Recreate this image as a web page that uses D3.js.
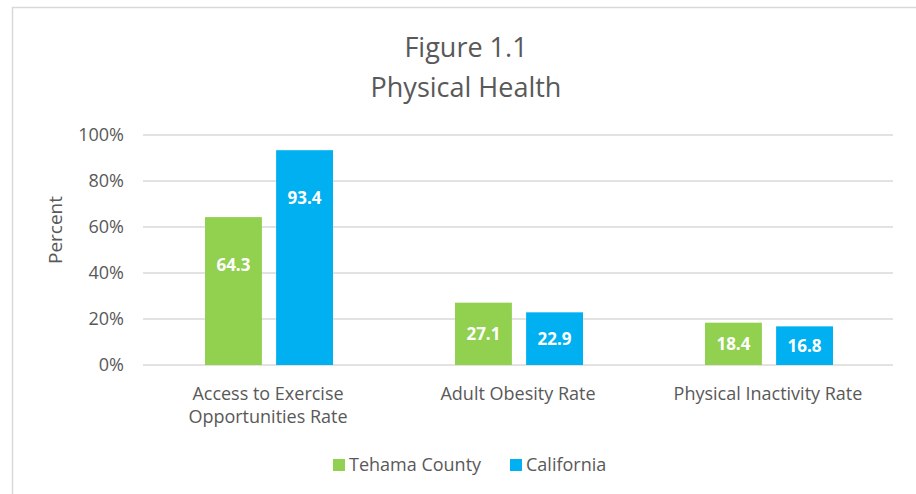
<!DOCTYPE html>
<html>
<head>
<meta charset="utf-8">
<script src="https://cdn.jsdelivr.net/npm/d3@7"></script>
<style>
  body { margin: 0; background: #fff; }
  text { font-family: "Open Sans", sans-serif; }
</style>
</head>
<body>
<div id="chart"></div>
<script>
const categories = [["Access to Exercise", "Opportunities Rate"], ["Adult Obesity Rate"], ["Physical Inactivity Rate"]];
const seriesNames = ["Tehama County", "California"];
const tehama = [64.3, 27.1, 18.4];
const california = [93.4, 22.9, 16.8];
const yTicks = [0, 20, 40, 60, 80, 100];
const colors = ["#92D050", "#00B0F0"];

var width = 916, height = 494;
var margin = { top: 135, right: 23, bottom: 129, left: 143 };
var innerW = width - margin.left - margin.right;
var innerH = height - margin.top - margin.bottom;

var svg = d3.select("#chart").append("svg")
    .attr("width", width)
    .attr("height", height);

// chart border
svg.append("rect")
    .attr("x", 12.5).attr("y", 7.5)
    .attr("width", width + 20).attr("height", height + 20)
    .attr("fill", "none")
    .attr("stroke", "#d9d9d9")
    .attr("stroke-width", 1.5);

var g = svg.append("g").attr("transform", `translate(${margin.left}, ${margin.top})`);

var x0 = d3.scaleBand().domain(d3.range(categories.length)).range([0, innerW]);
var x1 = d3.scaleBand().domain(d3.range(seriesNames.length)).range([62, 190]).paddingInner(0.2);
var y = d3.scaleLinear().domain([0, 100]).range([innerH, 0]);

// gridlines
g.append("g")
    .selectAll("line")
    .data(yTicks)
    .join("line")
    .attr("x1", 0).attr("x2", innerW)
    .attr("y1", d => y(d)).attr("y2", d => y(d))
    .attr("stroke", "#d9d9d9")
    .attr("stroke-width", 1.5);

// y axis labels
var yAxis = d3.axisLeft(y).tickValues(yTicks).tickFormat(d => d + "%").tickSize(0).tickPadding(19);
var yAxisG = g.append("g").call(yAxis);
yAxisG.select(".domain").remove();
yAxisG.selectAll("text").attr("fill", "#595959").style("font-size", "18px").style("font-family", "'Open Sans', sans-serif");

// y axis title
svg.append("text")
    .attr("transform", `translate(62, ${margin.top + innerH / 2 - 20}) rotate(-90)`)
    .attr("text-anchor", "middle")
    .attr("fill", "#595959")
    .style("font-size", "19px")
    .text("Percent");

var series = [tehama, california];

var groups = g.selectAll(".cat")
    .data(categories)
    .join("g")
    .attr("class", "cat")
    .attr("transform", (d, i) => `translate(${x0(i)}, 0)`);

groups.each(function (cat, ci) {
    var grp = d3.select(this);
    series.forEach(function (vals, si) {
        var v = vals[ci];
        var top = y(v);
        grp.append("rect")
            .attr("x", x1(si))
            .attr("y", top)
            .attr("width", x1.bandwidth())
            .attr("height", innerH - top)
            .attr("fill", colors[si]);
        var ly = Math.min((top + innerH) / 2, top + 48);
        grp.append("text")
            .attr("x", x1(si) + x1.bandwidth() / 2)
            .attr("y", ly)
            .attr("dy", "0.35em")
            .attr("text-anchor", "middle")
            .attr("fill", "#fff")
            .style("font-size", "17px")
            .style("font-weight", "bold")
            .text(v.toFixed(1));
    });
    var lbl = grp.append("text")
        .attr("x", x0.bandwidth() / 2)
        .attr("y", innerH + 35)
        .attr("text-anchor", "middle")
        .attr("fill", "#595959")
        .style("font-size", "18px");
    cat.forEach(function (line, li) {
        lbl.append("tspan").attr("x", x0.bandwidth() / 2).attr("dy", li === 0 ? 0 : 23).text(line);
    });
});

// title
var title = svg.append("text")
    .attr("x", 466)
    .attr("text-anchor", "middle")
    .attr("fill", "#595959")
    .style("font-size", "27px");
title.append("tspan").attr("x", 466).attr("y", 57).text("Figure 1.1");
title.append("tspan").attr("x", 466).attr("y", 97).text("Physical Health");

// legend
var legend = svg.append("g").attr("transform", "translate(333, 465)");
var legendX = [0, 177];
seriesNames.forEach(function (name, i) {
    var lg = legend.append("g").attr("transform", `translate(${legendX[i]}, 0)`);
    lg.append("rect").attr("x", 0).attr("y", -6).attr("width", 12).attr("height", 12).attr("fill", colors[i]);
    lg.append("text").attr("x", 16).attr("y", 0).attr("dy", "0.35em")
        .attr("fill", "#595959").style("font-size", "18px").text(name);
});
</script>
</body>
</html>
